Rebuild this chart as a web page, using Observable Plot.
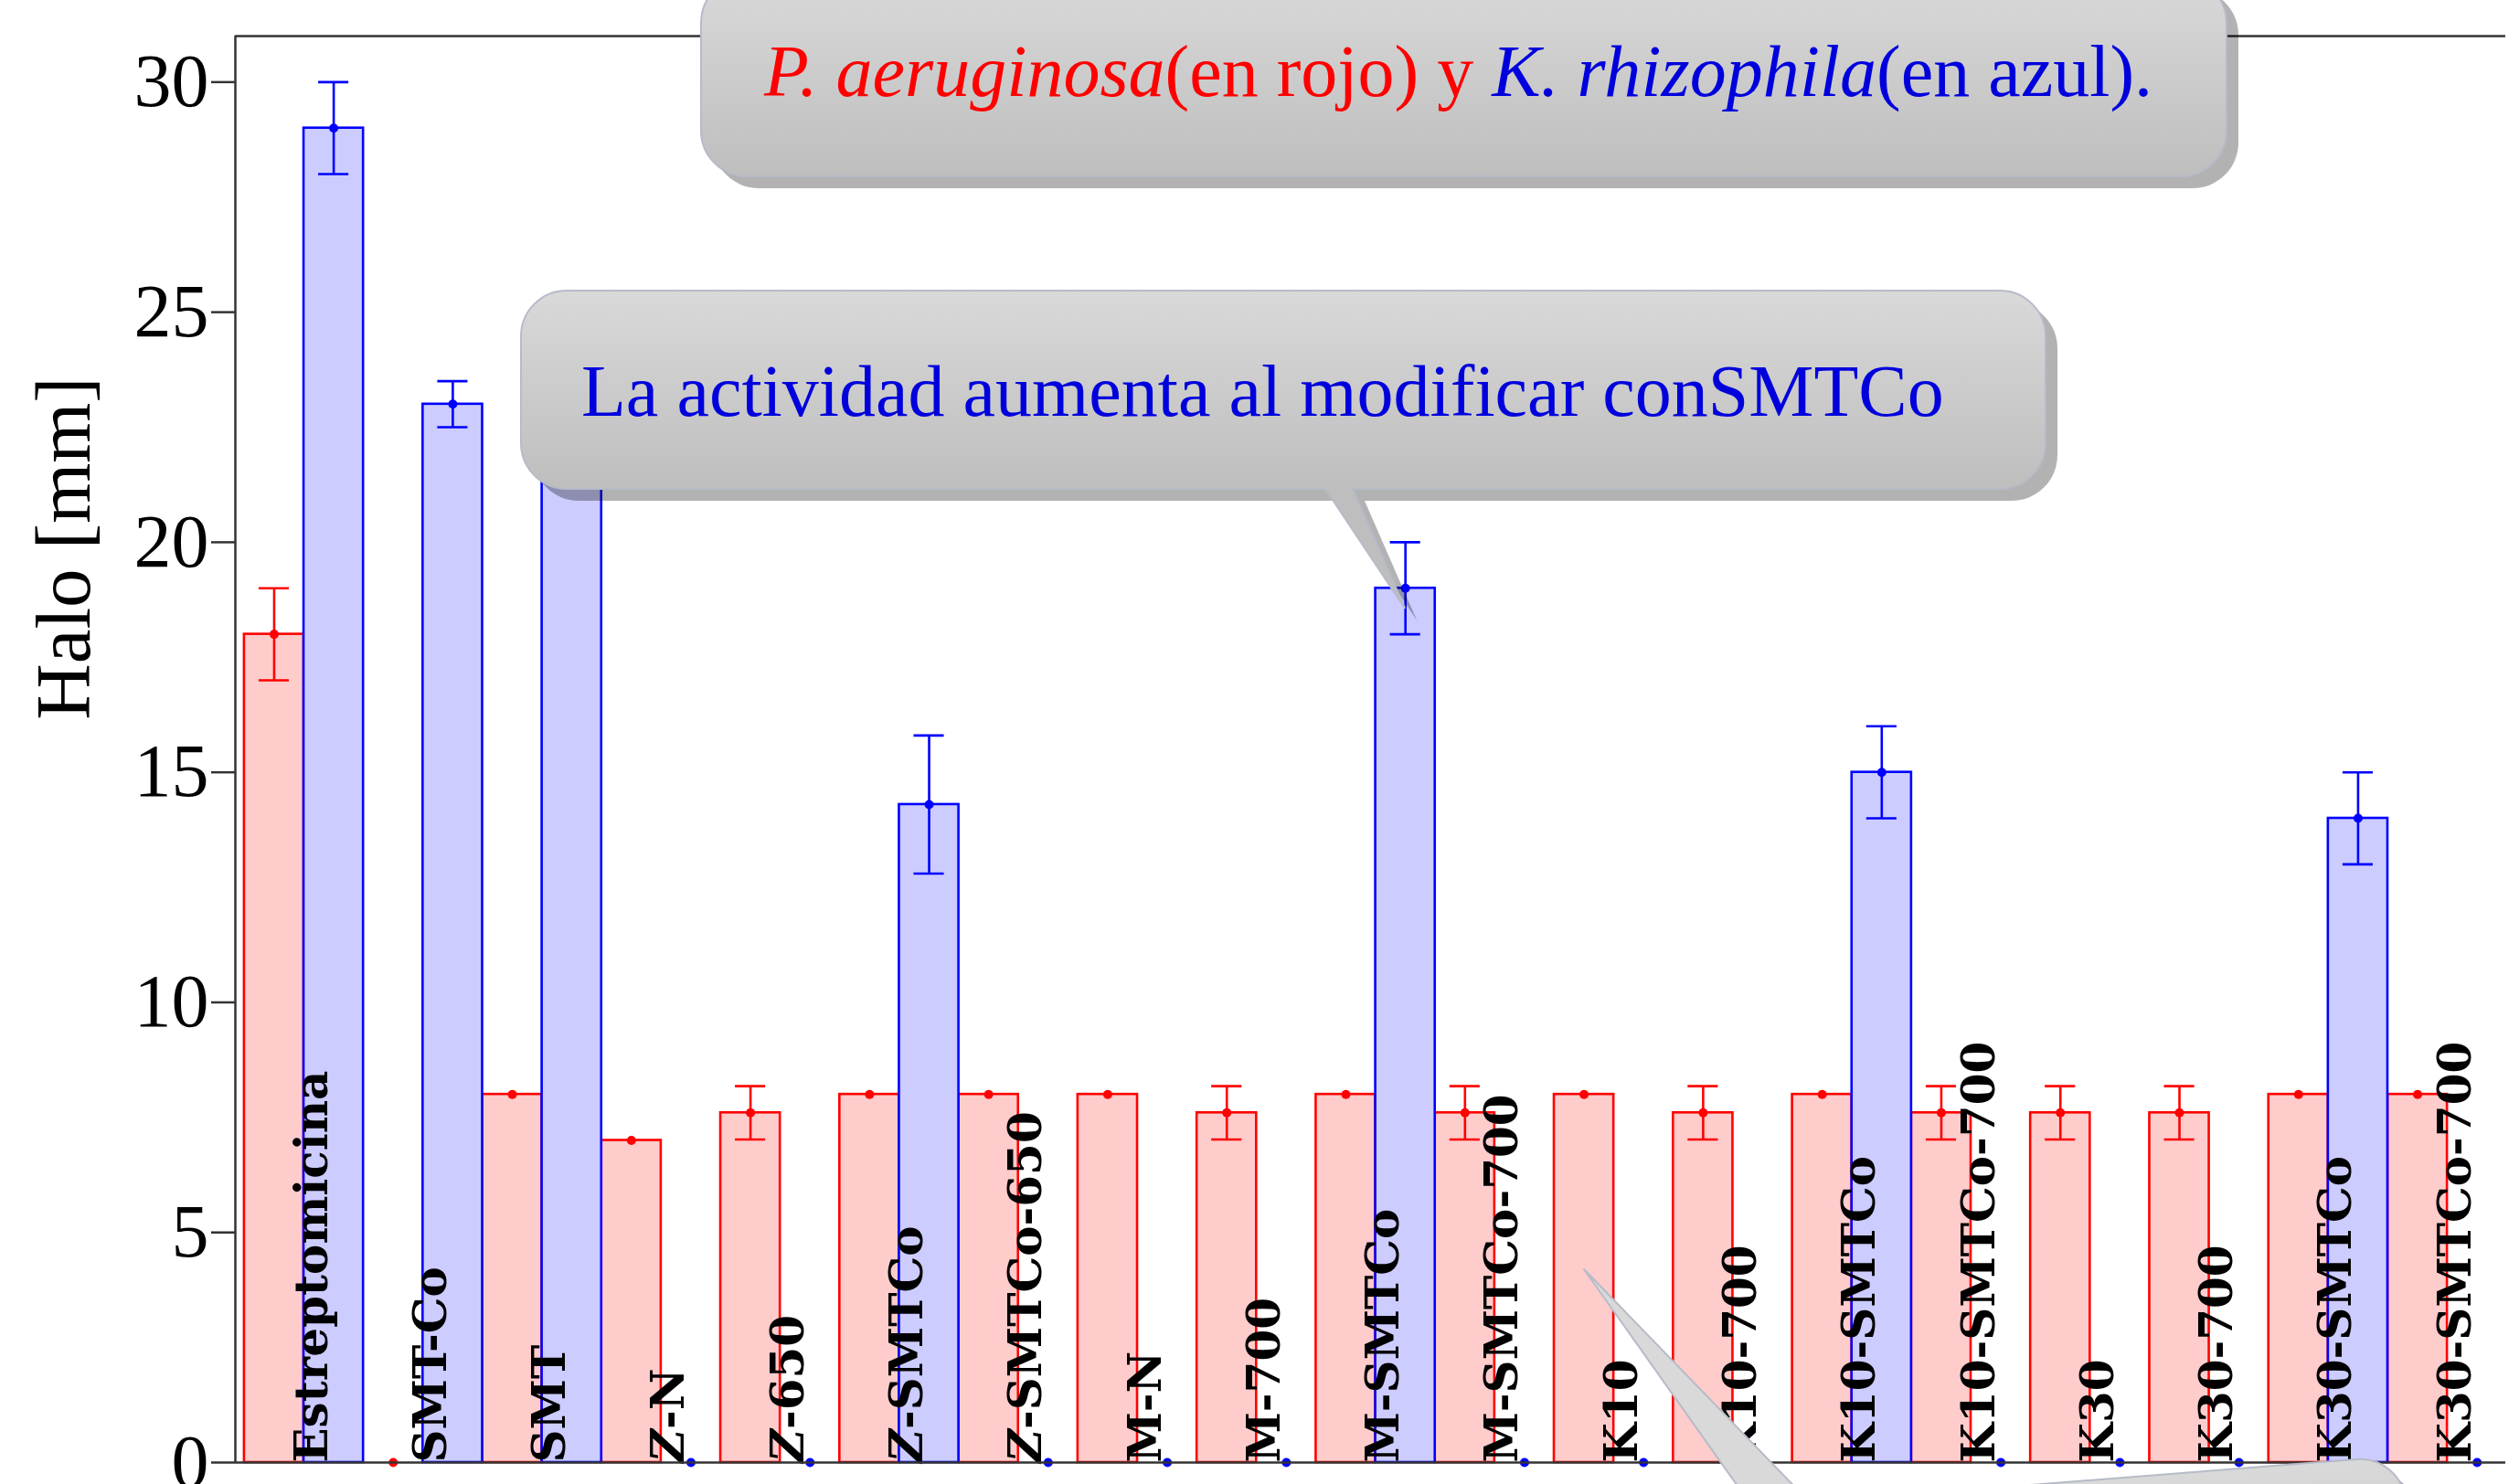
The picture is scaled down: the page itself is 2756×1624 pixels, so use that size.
<!DOCTYPE html>
<html>
<head>
<meta charset="utf-8">
<script src="https://cdn.jsdelivr.net/npm/d3@7"></script>
<script src="https://cdn.jsdelivr.net/npm/@observablehq/plot@0.6"></script>
<style>
  html, body { margin: 0; padding: 0; background: #fff; overflow: hidden; width: 2756px; height: 1624px; }
  #chart svg { display: block; }
</style>
</head>
<body>
<div id="chart"></div>
<script>
// ---------------- data ----------------
const categories = ["Estreptomicina", "SMT-Co", "SMT", "Z-N", "Z-650", "Z-SMTCo", "Z-SMTCo-650",
  "M-N", "M-700", "M-SMTCo", "M-SMTCo-700", "K10", "K10-700", "K10-SMTCo", "K10-SMTCo-700",
  "K30", "K30-700", "K30-SMTCo", "K30-SMTCo-700"];
// P. aeruginosa (red)
const aeruginosa    = [18, 0, 8, 7, 7.6, 8, 8, 8, 7.6, 8, 7.6, 8, 7.6, 8, 7.6, 7.6, 7.6, 8, 8];
const aeruginosaErr = [1, 0, 0, 0, 0.58, 0, 0, 0, 0.58, 0, 0.58, 0, 0.58, 0, 0.58, 0.58, 0.58, 0, 0];
// K. rhizophila (blue)
const rhizophila    = [29, 23, 22, 0, 0, 14.3, 0, 0, 0, 19, 0, 0, 0, 15, 0, 0, 0, 14, 0];
const rhizophilaErr = [1, 0.5, 0.5, 0, 0, 1.5, 0, 0, 0, 1, 0, 0, 0, 1, 0, 0, 0, 1, 0];
const yTicks = [0, 5, 10, 15, 20, 25, 30];
const yLabel = "Halo [mm]";
const note1 = [
  {text: "P. aeruginosa", italic: true, color: "#ff0000"},
  {text: "(en rojo) y ", italic: false, color: "#ff0000"},
  {text: "K. rhizophila", italic: true, color: "#0000dd"},
  {text: "(en azul).", italic: false, color: "#0000dd"}
];
const note2 = "La actividad aumenta al modificar conSMTCo";
// callout targets: [category, series, value]
const note2Target = ["M-SMTCo", "rhizophila", 18.55];
const note3Target = ["K10", "aeruginosa", 4.2];

// ---------------- layout / style ----------------
const W = 2756, H = 1624;
const RED = "#ff0000", RED_FILL = "#ffcccc", BLUE = "#0000ff", BLUE_FILL = "#ccccff";
const HALF = 0.5;      // bar width in group units
const CAP = 0.127;     // half width of error caps
const XMIN = -0.576, XMAX = 18.49, YMAX = 31;

const rows = categories.flatMap((c, i) => [
  {cat: c, i, series: "aeruginosa", x1: i - HALF, x2: i, xc: i - HALF / 2, v: aeruginosa[i], e: aeruginosaErr[i]},
  {cat: c, i, series: "rhizophila", x1: i, x2: i + HALF, xc: i + HALF / 2, v: rhizophila[i], e: rhizophilaErr[i]}
]);
const red = rows.filter(d => d.series === "aeruginosa");
const blue = rows.filter(d => d.series === "rhizophila");
const labels = categories.map((c, i) => ({cat: c, i}));

function seriesMarks(data, stroke, fill) {
  const err = data.filter(d => d.e > 0);
  return [
    Plot.rect(data, {x1: "x1", x2: "x2", y1: 0, y2: "v", fill, stroke, strokeWidth: 2.6}),
    Plot.ruleX(err, {x: "xc", y1: d => d.v - d.e, y2: d => d.v + d.e, stroke, strokeWidth: 2.6}),
    Plot.ruleY(err, {y: d => d.v + d.e, x1: d => d.xc - CAP, x2: d => d.xc + CAP, stroke, strokeWidth: 2.6}),
    Plot.ruleY(err, {y: d => d.v - d.e, x1: d => d.xc - CAP, x2: d => d.xc + CAP, stroke, strokeWidth: 2.6}),
    Plot.dot(data, {x: "xc", y: "v", r: 5, fill: stroke, stroke: null})
  ];
}

const plot = Plot.plot({
  width: W, height: H,
  marginLeft: 257, marginRight: 15, marginTop: 39, marginBottom: 24,
  style: {fontFamily: "'Liberation Serif', serif", background: "#fff", color: "#000"},
  x: {type: "linear", domain: [XMIN, XMAX], axis: null},
  y: {domain: [0, YMAX], axis: null},
  marks: [
    ...seriesMarks(red, RED, RED_FILL),
    ...seriesMarks(blue, BLUE, BLUE_FILL),
    Plot.text(labels, {
      x: "i", y: 0, text: "cat", rotate: -90, textAnchor: "start", lineAnchor: "bottom",
      dx: 25, fontSize: 50, fontWeight: "bold", fontFamily: "'DejaVu Serif', serif", fill: "#000"
    }),
    Plot.ruleY([0], {x1: XMIN, x2: XMAX, stroke: "#333", strokeWidth: 2.5}),
    Plot.ruleY([YMAX], {x1: XMIN, x2: XMAX, stroke: "#333", strokeWidth: 2.5}),
    Plot.ruleX([XMIN], {y1: 0, y2: YMAX, stroke: "#333", strokeWidth: 2.5}),
    Plot.axisY(yTicks, {
      anchor: "left", tickSize: 26, tickPadding: 3, fontSize: 82, label: null,
      tickFormat: d => String(d),
      stroke: "#333", strokeWidth: 2.5, fill: "#000", fontFamily: "'Liberation Serif', serif"
    })
  ]
});
document.getElementById("chart").appendChild(plot);

// italic Z in labels
d3.select(plot).selectAll("text").each(function() {
  const t = this.textContent;
  if (categories.includes(t) && t.startsWith("Z-")) {
    const sel = d3.select(this);
    sel.text(null);
    sel.append("tspan").attr("font-style", "italic").text("Z");
    sel.append("tspan").text(t.slice(1));
  }
});

// ---------------- annotations ----------------
const sx = plot.scale("x"), sy = plot.scale("y");
const svg = d3.select(plot);
const defs = svg.append("defs");
const ann = svg.append("g").attr("class", "annotations").attr("text-anchor", "start");

// y-axis title
ann.append("text")
  .attr("transform", "translate(98,600) rotate(-90)")
  .attr("text-anchor", "middle")
  .attr("font-family", "'Liberation Serif', serif")
  .attr("font-size", 85)
  .attr("fill", "#000")
  .text(yLabel);

function targetPoint(t) {
  const i = categories.indexOf(t[0]);
  const xc = t[1] === "aeruginosa" ? i - HALF / 2 : i + HALF / 2;
  return [sx.apply(xc), sy.apply(t[2])];
}

function bubblePath(x0, y0, x1, y1, r, ptr) {
  let p = `M${x0 + r},${y0}`;
  if (ptr && ptr.side === "top") p += ` L${ptr.a},${y0} L${ptr.tip[0]},${ptr.tip[1]} L${ptr.b},${y0}`;
  p += ` L${x1 - r},${y0} A${r},${r} 0 0 1 ${x1},${y0 + r}`;
  p += ` L${x1},${y1 - r} A${r},${r} 0 0 1 ${x1 - r},${y1}`;
  if (ptr && ptr.side === "bottom") p += ` L${ptr.b},${y1} L${ptr.tip[0]},${ptr.tip[1]} L${ptr.a},${y1}`;
  p += ` L${x0 + r},${y1} A${r},${r} 0 0 1 ${x0},${y1 - r}`;
  p += ` L${x0},${y0 + r} A${r},${r} 0 0 1 ${x0 + r},${y0} Z`;
  return p;
}

let gid = 0;
function bubble(x0, y0, x1, y1, r, ptr, rot) {
  const id = "bgrad" + (gid++);
  const g = defs.append("linearGradient").attr("id", id)
    .attr("gradientUnits", "userSpaceOnUse").attr("x1", 0).attr("x2", 0).attr("y1", y0).attr("y2", y1);
  g.append("stop").attr("offset", 0).attr("stop-color", "#d9d9d9");
  g.append("stop").attr("offset", 1).attr("stop-color", "#bebebe");
  const d = bubblePath(x0, y0, x1, y1, r, ptr);
  const rt = rot ? ` rotate(${rot.angle} ${rot.cx} ${rot.cy})` : "";
  ann.append("path").attr("d", d).attr("fill", "#000").attr("fill-opacity", 0.3)
    .attr("transform", `translate(13,13)${rt}`);
  ann.append("path").attr("d", d).attr("fill", `url(#${id})`)
    .attr("stroke", "#b6bbc8").attr("stroke-width", 2)
    .attr("transform", rt.trim() || null);
}

// bubble 1 (legend note)
bubble(767, -25, 2436, 193, 50, null, null);
const t1 = ann.append("text").attr("x", 836).attr("y", 105).attr("text-anchor", "start")
  .attr("font-family", "'Liberation Serif', serif").attr("font-size", 80);
note1.forEach(s => t1.append("tspan").attr("fill", s.color)
  .attr("font-style", s.italic ? "italic" : "normal").text(s.text));

// bubble 2 (pointer to M-SMTCo)
const tip2 = targetPoint(note2Target);
bubble(570, 318, 2238, 535, 50, {side: "bottom", a: 1450, b: 1480, tip: tip2}, null);
ann.append("text").attr("x", 636).attr("y", 455).attr("text-anchor", "start")
  .attr("font-family", "'Liberation Serif', serif").attr("font-size", 80)
  .attr("fill", "#0000dd").text(note2);

// bubble 3 (rotated, mostly below the picture, pointer to K10)
const rot = {angle: -4.5, cx: 2628, cy: 1593};
const tip3s = targetPoint(note3Target);
const a = rot.angle * Math.PI / 180;
const dxs = tip3s[0] - rot.cx, dys = tip3s[1] - rot.cy;
// inverse rotation to local coordinates
const tip3 = [rot.cx + dxs * Math.cos(-a) - dys * Math.sin(-a), rot.cy + dxs * Math.sin(-a) + dys * Math.cos(-a)];
bubble(1500, 1593, 2628, 1850, 50, {side: "top", a: 1915, b: 1978, tip: tip3}, rot);
</script>
</body>
</html>
